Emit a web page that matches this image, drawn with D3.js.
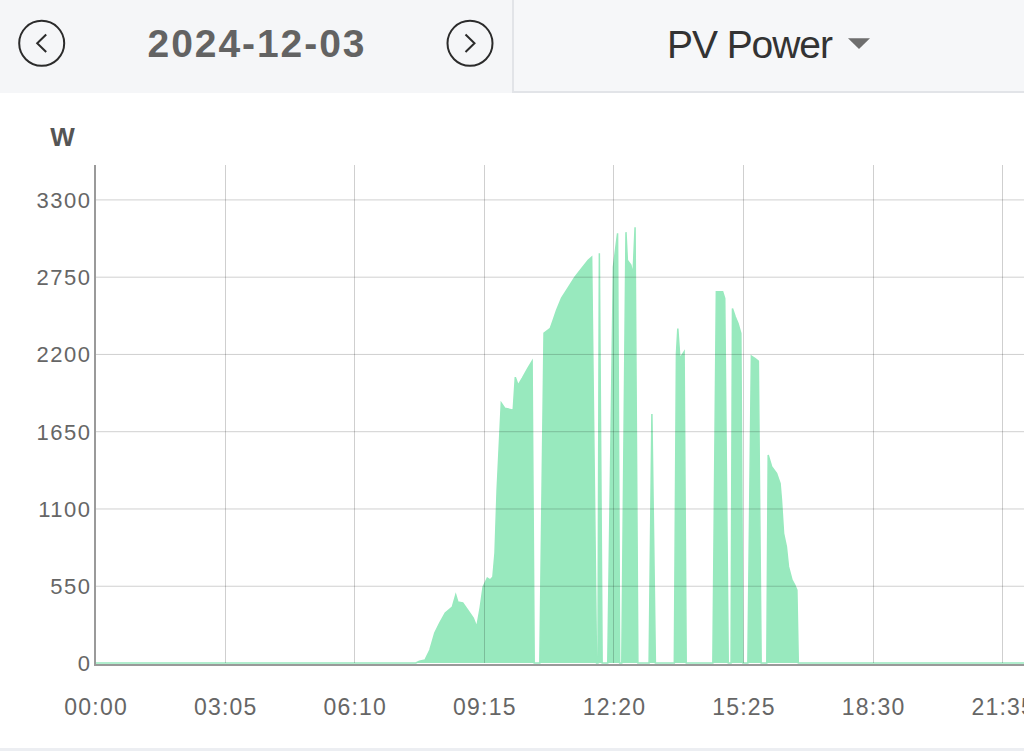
<!DOCTYPE html>
<html>
<head>
<meta charset="utf-8">
<script src="https://cdn.jsdelivr.net/npm/d3@7"></script>
<style>
  body { margin: 0; background: #fff; overflow: hidden; }
  svg { display: block; font-family: "Liberation Sans", Arial, sans-serif; }
</style>
</head>
<body>
<svg width="1024" height="751"></svg>
<script>
let svg = d3.select("svg"),
    width = +svg.attr("width"),
    height = +svg.attr("height");

// minutes since midnight and PV power in W
let times = [0, 458, 463, 471, 478, 485, 492, 500, 510, 515, 518, 525, 532, 540, 545,
    550, 554, 560, 564, 568, 571, 574, 580, 585, 597, 600, 604, 610, 618, 624, 627,
    635, 641, 650, 654, 659, 666, 676, 685, 695, 704, 709, 716,
    718, 720, 724,
    732, 740, 746, 749,
    752, 758, 760, 765, 768, 771, 775,
    791, 795, 800,
    827, 830, 832, 835, 841, 844,
    882, 887, 896, 899, 904,
    908, 910, 914, 918, 922, 925,
    932, 937, 942, 947, 951,
    959, 961, 966, 973, 978, 980, 983, 987, 990, 995, 999, 1002, 1004,
    1435];
let watts = [0, 0, 12, 21, 92, 213, 284, 356, 398, 484, 434, 427, 377, 320, 256,
    398, 541, 605, 591, 612, 783, 1231, 1850, 1814, 1800, 2035, 1978, 2028, 2099, 2149, 0,
    0, 2348, 2383, 2440, 2512, 2597, 2675, 2746, 2810, 2867, 2889, 0,
    0, 2917, 0,
    0, 2818, 3059, 0,
    0, 3067, 2867, 2832, 2760, 3102, 0,
    0, 1772, 0,
    0, 2200, 2381, 2168, 2215, 0,
    0, 2642, 2642, 2595, 0,
    0, 2524, 2464, 2417, 2346, 0,
    0, 2184, 2168, 2149, 0,
    0, 1480, 1397, 1350, 1279, 1160, 923, 828, 686, 591, 555, 519, 0,
    0];

let xTickLabels = ["00:00", "03:05", "06:10", "09:15", "12:20", "15:25", "18:30", "21:35"];
let yTicks = [0, 550, 1100, 1650, 2200, 2750, 3300];

let dateLabel = "2024-12-03";
let metricLabel = "PV Power";
let unitLabel = "W";

let areaColor = "#98e9be";
let gridColor = "rgba(0,0,0,0.19)";
let axisColor = "#9a9a9a";

let plot = {left: 95, top: 165, bottom: 663, right: 95 + 1440 * 0.7005};

let x = d3.scaleLinear().domain([0, 1440]).range([plot.left, plot.right]);
let y = d3.scaleLinear().domain([0, 3545]).range([plot.bottom, plot.top]);

function toMinutes(s) {
    let p = s.split(":");
    return +p[0] * 60 + +p[1];
}

let points = times.map((t, i) => ({t: t, v: watts[i]}));

/* HEADER */
function drawHeader() {
    let head = svg.append("g").attr("class", "header");
    head.append("rect")
        .attr("width", width).attr("height", 93)
        .attr("fill", "#f5f6f8");
    head.append("rect")
        .attr("x", 513).attr("y", -2)
        .attr("width", 520).attr("height", 94)
        .attr("fill", "#f6f7f9")
        .attr("stroke", "#e2e4e8")
        .attr("stroke-width", 2);

    [{cx: 41.7, dir: -1}, {cx: 470, dir: 1}].forEach(b => {
        head.append("circle")
            .attr("cx", b.cx).attr("cy", 43.3).attr("r", 22.5)
            .attr("fill", "none").attr("stroke", "#2b2b2b").attr("stroke-width", 2);
        head.append("path")
            .attr("d", d3.line()([[b.cx - 4.5 * b.dir, 34.5], [b.cx + 4.5 * b.dir, 43.3], [b.cx - 4.5 * b.dir, 52]]))
            .attr("fill", "none").attr("stroke", "#2b2b2b").attr("stroke-width", 2);
    });

    head.append("text")
        .attr("x", 256).attr("y", 57)
        .attr("text-anchor", "middle")
        .attr("font-size", 39).attr("font-weight", "bold")
        .attr("fill", "#636363")
        .attr("textLength", 217).attr("lengthAdjust", "spacing")
        .text(dateLabel);

    head.append("text")
        .attr("x", 750).attr("y", 58)
        .attr("text-anchor", "middle")
        .attr("font-size", 39)
        .attr("fill", "#333")
        .attr("textLength", 166).attr("lengthAdjust", "spacing")
        .text(metricLabel);

    head.append("path")
        .attr("d", "M848,38.3L870,38.3L859,49Z")
        .attr("fill", "#6e6e6e");
}

/* CHART */
function drawChart() {
    let area = d3.area()
        .x(d => x(d.t))
        .y0(y(0))
        .y1(d => y(d.v));
    let line = d3.line()
        .x(d => x(d.t))
        .y(d => y(d.v));

    svg.append("path")
        .datum(points)
        .attr("d", area)
        .attr("fill", areaColor);
    svg.append("path")
        .datum(points)
        .attr("d", line)
        .attr("fill", "none")
        .attr("stroke", areaColor)
        .attr("stroke-width", 1.5);

    // grid goes over the area, as in the app
    let grid = svg.append("g").attr("class", "grid");
    grid.selectAll("line.h")
        .data(yTicks.filter(d => d > 0)).enter().append("line")
            .attr("x1", plot.left).attr("x2", width)
            .attr("y1", d => y(d) + 0.5).attr("y2", d => y(d) + 0.5)
            .attr("stroke", gridColor);
    grid.selectAll("line.v")
        .data(xTickLabels.slice(1)).enter().append("line")
            .attr("x1", d => Math.round(x(toMinutes(d))) + 0.5)
            .attr("x2", d => Math.round(x(toMinutes(d))) + 0.5)
            .attr("y1", plot.top).attr("y2", plot.bottom)
            .attr("stroke", gridColor);

    // axis lines
    svg.append("line")
        .attr("x1", plot.left).attr("x2", plot.left)
        .attr("y1", plot.top).attr("y2", plot.bottom + 2)
        .attr("stroke", axisColor).attr("stroke-width", 2);
    svg.append("line")
        .attr("x1", plot.left - 1).attr("x2", width)
        .attr("y1", plot.bottom + 2).attr("y2", plot.bottom + 2)
        .attr("stroke", axisColor).attr("stroke-width", 2);

    let yAxis = d3.axisLeft(y)
        .tickValues(yTicks)
        .tickFormat(d3.format("d"))
        .tickSize(0).tickPadding(0);
    let yg = svg.append("g")
        .attr("transform", "translate(91.5,0)")
        .call(yAxis);
    yg.select(".domain").remove();
    yg.selectAll("text")
        .attr("font-family", "Liberation Sans, Arial, sans-serif")
        .attr("font-size", 22)
        .attr("letter-spacing", "1.5px")
        .attr("fill", "#666")
        .attr("dy", "0.36em");

    let xAxis = d3.axisBottom(x)
        .tickValues(xTickLabels.map(toMinutes))
        .tickFormat((d, i) => xTickLabels[i])
        .tickSize(0).tickPadding(0);
    let xg = svg.append("g")
        .attr("transform", "translate(0.6,715)")
        .call(xAxis);
    xg.select(".domain").remove();
    xg.selectAll("text")
        .attr("font-family", "Liberation Sans, Arial, sans-serif")
        .attr("font-size", 23)
        .attr("letter-spacing", "1.2px")
        .attr("fill", "#666")
        .attr("dy", 0);

    svg.append("text")
        .attr("x", 62.5).attr("y", 146)
        .attr("text-anchor", "middle")
        .attr("font-size", 26).attr("font-weight", "bold")
        .attr("fill", "#555")
        .text(unitLabel);

    svg.append("rect")
        .attr("x", 0).attr("y", 748)
        .attr("width", width).attr("height", 3)
        .attr("fill", "#eceef2");
}

drawHeader();
drawChart();
</script>
</body>
</html>
